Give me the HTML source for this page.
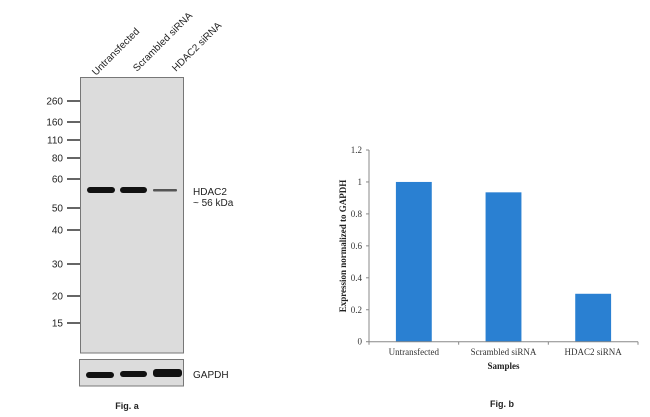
<!DOCTYPE html>
<html><head><meta charset="utf-8"><style>
body{margin:0;background:#fff;width:650px;height:417px;overflow:hidden;font-family:"Liberation Sans",Arial,sans-serif}
svg{display:block}
</style></head><body>
<svg width="650" height="417" viewBox="0 0 650 417" xmlns="http://www.w3.org/2000/svg">
<g font-family="Liberation Sans, Arial, sans-serif">
  <g font-size="10" fill="#222">
    <text transform="translate(96,76) rotate(-45)">Untransfected</text>
    <text transform="translate(137,72) rotate(-45)">Scrambled siRNA</text>
    <text transform="translate(176,72) rotate(-45)">HDAC2 siRNA</text>
  </g>
  <rect x="80.5" y="77.5" width="103" height="275.5" fill="#dcdcdc" stroke="#777"/>
  <g font-size="10" fill="#222" text-anchor="end" id="mw"></g>
  <rect x="87" y="187" width="28" height="6" rx="3" fill="#111"/>
  <rect x="120" y="187" width="27" height="6" rx="3" fill="#111"/>
  <rect x="153" y="189" width="24" height="2.5" rx="1" fill="#555"/>
  <text x="193" y="195" font-size="10" fill="#222">HDAC2</text>
  <text x="193" y="206" font-size="10" fill="#222">~ 56 kDa</text>
  <rect x="79.5" y="359.5" width="104" height="26.5" fill="#dcdcdc" stroke="#777"/>
  <rect x="86" y="372" width="28" height="6" rx="3" fill="#111"/>
  <rect x="120" y="371" width="27" height="6" rx="3" fill="#111"/>
  <rect x="153" y="369" width="29" height="8" rx="3" fill="#111"/>
  <text x="193" y="378" font-size="10" fill="#222">GAPDH</text>
  <text x="127" y="409" font-size="9" font-weight="bold" text-anchor="middle" fill="#222">Fig. a</text>
</g>
<g id="chart" font-family="Liberation Serif, Times New Roman, serif"></g>
<text x="502" y="407" font-size="9" font-weight="bold" text-anchor="middle" fill="#222" font-family="Liberation Sans, Arial, sans-serif">Fig. b</text>
</svg>
<script>
const mwLabels=["260","160","110","80","60","50","40","30","20","15"];
const mwY=[101,122,140,158,179,208,230,264,296,323];
const categories=["Untransfected","Scrambled siRNA","HDAC2 siRNA"];
const values=[1.0,0.935,0.30];
const yTicks=[0,0.2,0.4,0.6,0.8,1,1.2];
const NS="http://www.w3.org/2000/svg";
function mk(t,a,p){const e=document.createElementNS(NS,t);for(const k in a)e.setAttribute(k,a[k]);p.appendChild(e);return e;}
const mw=document.getElementById('mw');
mwLabels.forEach((l,i)=>{
  const t=mk('text',{x:63,y:mwY[i]+3.5},mw);t.textContent=l;
  
  
  const ln=mk('line',{x1:67,x2:80,y1:mwY[i],y2:mwY[i],stroke:'#333','stroke-width':1.5},mw);
  
  
});
const g=document.getElementById('chart');
const x0=369,x1=638,y0=341.7,yTop=150,yMax=1.2;
const yS=v=>y0-(v/yMax)*(y0-yTop);
const cw=(x1-x0)/categories.length;
const xC=i=>x0+cw*(i+0.5);
yTicks.forEach(v=>{
  const t=mk('text',{x:362,y:yS(v)+3,'font-size':9,'text-anchor':'end',fill:'#333'},g);
  t.textContent=String(v);
  
  
  const k=mk('line',{x1:366,x2:369,y1:yS(v),y2:yS(v),stroke:'#888'},g);
  
  
});
values.forEach((v,i)=>{
  const bw=cw*0.4;
  const r=mk('rect',{x:xC(i)-bw/2,y:yS(v),width:bw,height:y0-yS(v),fill:'#2a80d2'},g);
  
  
  const t=mk('text',{x:xC(i),y:355,'font-size':9,'text-anchor':'middle',fill:'#333'},g);
  t.textContent=categories[i];
  
  
});
const ya=mk('line',{x1:x0,x2:x0,y1:yTop,y2:y0,stroke:'#888'},g);


const xa=mk('line',{x1:x0,x2:x1,y1:y0,y2:y0,stroke:'#888'},g);


for(let i=0;i<=categories.length;i++){
  const tk=mk('line',{x1:x0+cw*i,x2:x0+cw*i,y1:y0,y2:y0+3,stroke:'#888'},g);
  
  
}
const xt=mk('text',{x:(x0+x1)/2,y:369,'font-size':9,'font-weight':'bold','text-anchor':'middle',fill:'#222'},g);
xt.textContent='Samples';


const yt=mk('text',{transform:'translate(346,246) rotate(-90)','font-size':9,'font-weight':'bold','text-anchor':'middle',fill:'#222'},g);
yt.textContent='Expression normalized to GAPDH';


</script>
</body></html>
